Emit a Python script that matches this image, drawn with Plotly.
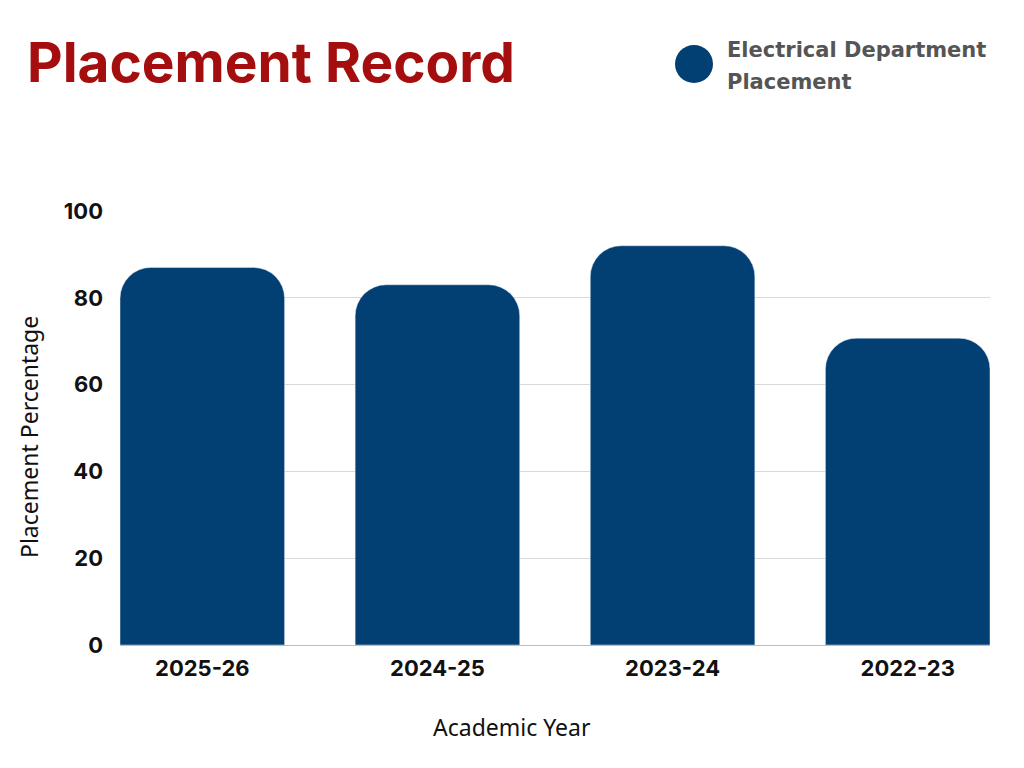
import plotly.graph_objects as go

# data
years = ["2025-26", "2024-25", "2023-24", "2022-23"]
placement = [87, 83, 92, 70.7]
series_lines = ["Electrical Department", "Placement"]
y_ticks = [0, 20, 40, 60, 80, 100]

W, H = 1024, 768
PAD = 8  # page body margin of the browser
# plot area as it should appear on the page
PL, PT, PW, PH = 120, 211, 870, 434
bar_color = "#023F73"


def px_x(x):
    return (x - PL) / PW


def px_y(y):
    return (PT + PH - y) / PH


fig = go.Figure()
fig.add_trace(go.Bar(
    x=years, y=placement, name=" ".join(series_lines),
    marker_color=bar_color, width=0.7, showlegend=False,
))

# legend drawn by hand: big round swatch plus two-line label
fig.add_shape(
    type="circle", xref="paper", yref="paper",
    xsizemode="pixel", ysizemode="pixel",
    xanchor=px_x(694), yanchor=px_y(64),
    x0=-19, x1=19, y0=-19, y1=19,
    fillcolor=bar_color, line_width=0,
)
for i, line in enumerate(series_lines):
    fig.add_annotation(
        text="<b>" + line + "</b>", xref="paper", yref="paper",
        x=px_x(725), y=px_y(50 + 32 * i), xanchor="left", yanchor="middle",
        showarrow=False,
        font=dict(family="DejaVu Sans", size=21, color="#555555"),
    )

# axis titles as annotations (they sit centred on the page, not the plot)
fig.add_annotation(
    text="Academic Year", xref="paper", yref="paper",
    x=px_x(512), y=px_y(727), xanchor="center", yanchor="middle",
    showarrow=False,
    font=dict(family="Noto Sans", size=23, color="#111111"),
)
fig.add_annotation(
    text="Placement Percentage", xref="paper", yref="paper",
    x=px_x(29), y=px_y(437), xanchor="center", yanchor="middle",
    textangle=-90, showarrow=False,
    font=dict(family="Noto Sans", size=23, color="#111111"),
)

fig.update_layout(
    width=W, height=H,
    margin=dict(l=PL - PAD, r=W - (PL - PAD) - PW, t=PT - PAD,
                b=H - (PT - PAD) - PH),
    plot_bgcolor="white", paper_bgcolor="white",
    barcornerradius=31,
    title=dict(
        text="<b>Placement Record</b>",
        xref="container", yref="container",
        x=(27 - PAD) / W, y=1 - (63 - PAD) / H,
        xanchor="left", yanchor="middle",
        font=dict(family="Inter", size=55, color="#A50E0E", weight=900),
    ),
)
fig.update_xaxes(
    range=[-0.35, 3.35],
    showline=True, linecolor="#bdbdbd", linewidth=1,
    tickfont=dict(family="Inter", size=22, color="#111111", weight=700),
    ticks="", ticklabelstandoff=4,
)
fig.update_yaxes(
    range=[0, 100], tickvals=y_ticks,
    showgrid=True, gridcolor="#d9d9d9", gridwidth=1,
    zeroline=False,
    tickfont=dict(family="Inter", size=22, color="#111111", weight=700),
    ticks="", ticklabelstandoff=16,
)

fig.write_html("out.html")
